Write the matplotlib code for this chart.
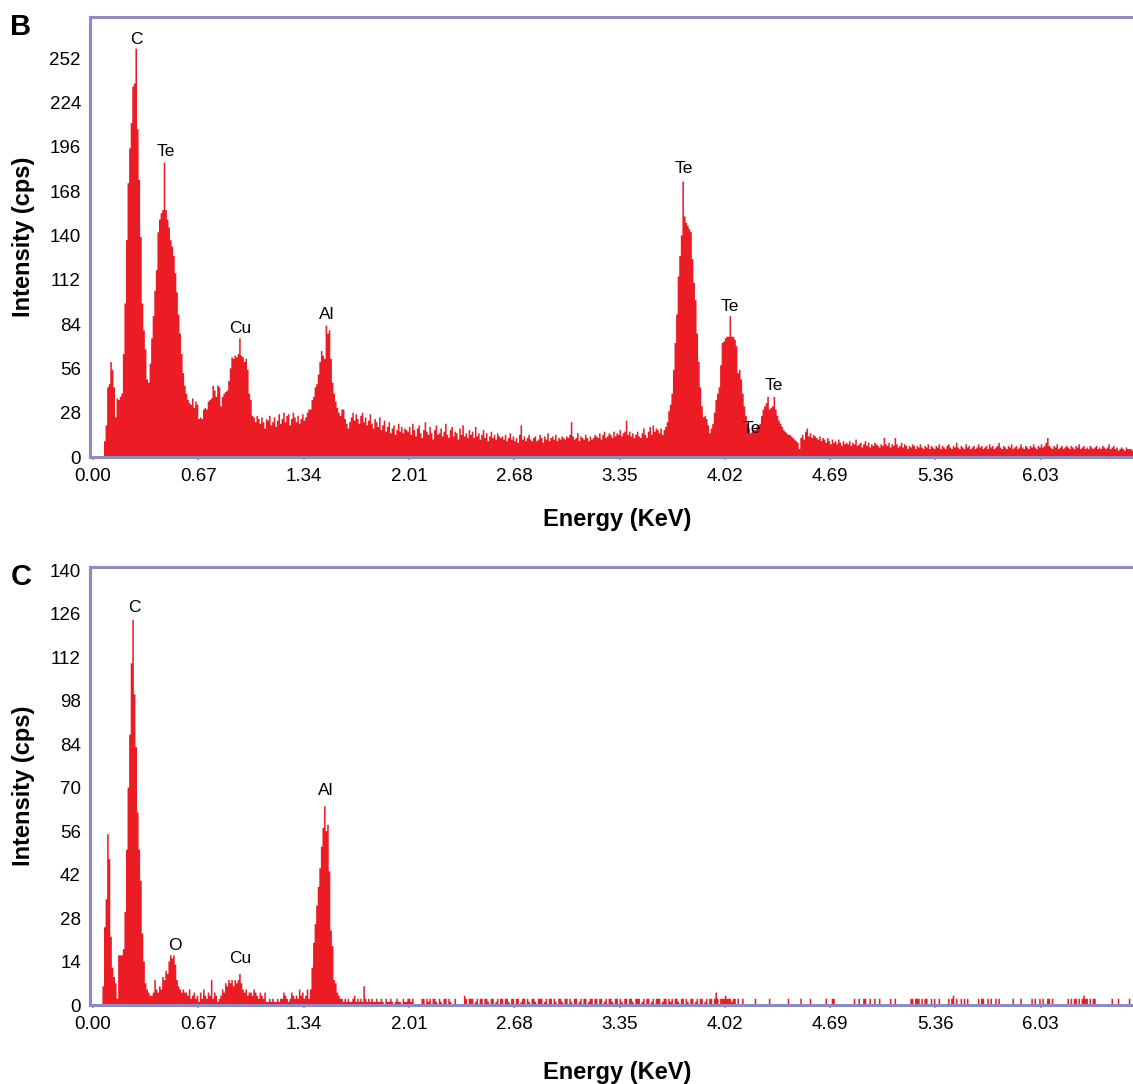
import numpy as np
import matplotlib
matplotlib.use("Agg")
import matplotlib.pyplot as plt

plt.rcParams['font.family'] = ['Liberation Sans', 'DejaVu Sans']

# EDS spectra, one value per 10 eV channel starting at 0.00 keV
channel_kev = 0.01

counts_b = [
    0, 0, 0, 0, 0, 0, 0, 10, 20, 44, 46, 60, 55, 44, 25, 37, 36, 38, 40, 65,
    97, 137, 173, 195, 211, 234, 236, 258, 207, 175, 139, 97, 80, 68, 49, 47, 59, 75, 89, 105,
    118, 142, 150, 154, 156, 186, 156, 150, 145, 137, 133, 127, 116, 104, 90, 78, 65, 53, 45, 40,
    36, 34, 33, 37, 31, 35, 33, 24, 25, 24, 30, 31, 30, 35, 36, 37, 45, 42, 38, 45,
    44, 32, 38, 40, 41, 42, 48, 56, 63, 62, 64, 63, 65, 75, 64, 63, 60, 62, 55, 40,
    36, 26, 25, 22, 26, 24, 21, 25, 22, 18, 24, 23, 26, 20, 22, 25, 19, 23, 27, 21,
    24, 28, 22, 26, 27, 20, 24, 28, 25, 22, 26, 21, 24, 27, 23, 25, 28, 30, 30, 36,
    38, 44, 46, 52, 60, 67, 64, 62, 83, 78, 80, 62, 47, 40, 35, 31, 28, 26, 30, 30,
    24, 21, 18, 22, 25, 28, 23, 27, 24, 21, 26, 28, 22, 25, 20, 23, 27, 21, 18, 24,
    22, 19, 25, 17, 20, 23, 16, 19, 22, 15, 18, 20, 14, 17, 21, 16, 19, 15, 18, 17,
    16, 19, 14, 21, 17, 13, 18, 20, 15, 12, 17, 22, 16, 14, 19, 15, 11, 17, 20, 14,
    15, 18, 13, 16, 21, 14, 12, 17, 19, 13, 16, 15, 11, 18, 14, 20, 13, 15, 12, 17,
    14, 16, 12, 19, 13, 15, 11, 14, 17, 12, 15, 10, 13, 16, 12, 14, 11, 15, 13, 12,
    13, 11, 14, 10, 12, 15, 11, 13, 10, 12, 9, 14, 20, 11, 13, 10, 12, 14, 11, 10,
    12, 13, 10, 11, 14, 12, 9, 13, 11, 15, 10, 12, 13, 11, 14, 10, 12, 11, 13, 12,
    11, 13, 12, 14, 22, 13, 11, 12, 15, 10, 13, 12, 11, 14, 12, 10, 13, 11, 12, 14,
    13, 12, 15, 11, 14, 16, 12, 13, 15, 14, 12, 16, 13, 15, 14, 17, 13, 15, 16, 23,
    14, 16, 13, 15, 12, 14, 16, 13, 12, 15, 18, 14, 12, 16, 19, 14, 20, 16, 18, 17,
    15, 18, 14, 17, 19, 22, 29, 33, 40, 55, 72, 90, 114, 127, 140, 174, 152, 148, 146, 144,
    142, 125, 110, 99, 78, 60, 44, 32, 25, 26, 24, 20, 15, 18, 21, 28, 36, 40, 44, 58,
    72, 73, 75, 76, 76, 89, 76, 76, 74, 70, 53, 55, 49, 40, 32, 26, 21, 18, 15, 16,
    17, 17, 19, 20, 21, 26, 30, 32, 34, 38, 30, 31, 32, 38, 30, 26, 23, 21, 19, 17,
    16, 15, 14, 14, 13, 12, 11, 10, 9, 5, 12, 14, 11, 16, 18, 13, 15, 12, 14, 13,
    12, 11, 13, 10, 12, 11, 9, 12, 10, 8, 11, 9, 10, 8, 11, 9, 7, 10, 8, 9,
    8, 10, 7, 9, 8, 11, 7, 8, 9, 6, 8, 10, 7, 9, 6, 8, 7, 9, 8, 7,
    6, 8, 7, 12, 8, 7, 9, 6, 8, 7, 12, 8, 6, 7, 9, 6, 8, 7, 5, 7,
    6, 8, 7, 5, 7, 6, 8, 6, 5, 7, 6, 8, 5, 7, 6, 5, 7, 6, 8, 5,
    7, 6, 5, 7, 8, 6, 5, 7, 6, 9, 6, 5, 7, 6, 5, 8, 6, 7, 5, 6,
    7, 5, 6, 8, 6, 7, 5, 6, 7, 5, 8, 6, 7, 5, 6, 7, 9, 6, 5, 7,
    6, 5, 7, 6, 8, 5, 6, 7, 5, 6, 8, 6, 5, 7, 6, 5, 7, 6, 8, 6,
    5, 7, 6, 8, 6, 7, 9, 12, 7, 6, 5, 7, 6, 8, 5, 6, 7, 5, 6, 7,
    6, 5, 7, 6, 5, 7, 6, 8, 5, 6, 7, 5, 6, 5, 7, 6, 5, 6, 7, 5,
    6, 5, 7, 6, 5, 6, 8, 5, 6, 7, 5, 6, 4, 5, 6, 5, 4, 6, 5, 5,
    5, 4,
]

counts_c = [
    0, 0, 0, 0, 0, 0, 6, 25, 34, 55, 47, 22, 12, 9, 7, 2, 16, 16, 16, 18,
    30, 50, 70, 87, 110, 124, 100, 83, 62, 50, 40, 23, 14, 7, 5, 4, 3, 3, 4, 8,
    5, 4, 6, 5, 9, 8, 11, 10, 14, 16, 15, 16, 13, 8, 6, 5, 4, 5, 4, 4,
    3, 5, 2, 3, 4, 2, 3, 1, 4, 2, 5, 3, 2, 4, 3, 8, 2, 4, 3, 1,
    2, 3, 5, 4, 7, 6, 8, 7, 8, 6, 8, 7, 8, 10, 7, 5, 4, 5, 3, 4,
    4, 3, 5, 4, 3, 2, 4, 3, 2, 4, 1, 1, 2, 1, 2, 1, 1, 2, 1, 2,
    2, 4, 3, 2, 1, 2, 4, 3, 2, 3, 2, 5, 3, 4, 2, 3, 5, 2, 5, 12,
    20, 26, 32, 38, 44, 51, 57, 64, 56, 58, 43, 24, 19, 8, 7, 4, 3, 2, 2, 1,
    2, 1, 2, 1, 1, 2, 3, 1, 2, 1, 2, 1, 6, 2, 1, 2, 1, 2, 1, 1,
    2, 1, 1, 2, 1, 0, 2, 1, 1, 2, 1, 0, 1, 2, 1, 1, 0, 2, 1, 1,
    2, 2, 1, 2, 0, 0, 0, 0, 0, 2, 2, 0, 2, 1, 2, 0, 2, 2, 1, 0,
    2, 1, 0, 2, 2, 0, 2, 1, 0, 0, 2, 0, 0, 0, 0, 0, 3, 2, 0, 2,
    2, 2, 0, 1, 2, 0, 2, 2, 0, 2, 2, 1, 0, 2, 2, 0, 1, 2, 0, 2,
    2, 0, 2, 2, 1, 0, 2, 2, 0, 2, 2, 0, 1, 2, 2, 0, 2, 1, 0, 2,
    2, 1, 0, 2, 2, 2, 0, 1, 2, 0, 2, 2, 0, 2, 1, 0, 2, 2, 1, 0,
    2, 2, 0, 2, 1, 0, 2, 2, 0, 1, 2, 0, 2, 2, 0, 1, 2, 2, 0, 2,
    2, 0, 2, 2, 0, 1, 2, 0, 2, 2, 1, 0, 2, 2, 0, 2, 1, 0, 2, 2,
    0, 2, 2, 1, 0, 2, 2, 2, 0, 1, 2, 0, 2, 2, 0, 1, 2, 0, 2, 2,
    2, 0, 1, 2, 2, 0, 2, 1, 2, 0, 2, 2, 1, 0, 2, 2, 0, 2, 1, 0,
    2, 2, 0, 1, 2, 0, 2, 2, 0, 1, 2, 0, 2, 2, 0, 2, 4, 2, 0, 2,
    2, 2, 3, 2, 2, 2, 1, 2, 2, 0, 2, 0, 0, 2, 0, 0, 0, 0, 0, 0,
    0, 2, 0, 0, 0, 0, 0, 0, 0, 0, 2, 0, 0, 0, 0, 0, 0, 0, 0, 0,
    0, 0, 2, 0, 0, 0, 0, 0, 0, 0, 2, 0, 0, 0, 0, 0, 2, 0, 0, 0,
    0, 0, 0, 0, 0, 0, 2, 0, 0, 0, 2, 2, 0, 0, 0, 0, 0, 0, 0, 0,
    0, 0, 0, 0, 2, 0, 0, 2, 0, 0, 2, 2, 0, 0, 2, 0, 0, 2, 0, 0,
    2, 0, 0, 0, 0, 0, 0, 2, 0, 0, 2, 0, 0, 0, 0, 0, 0, 0, 0, 0,
    2, 2, 0, 2, 2, 2, 0, 2, 0, 2, 2, 0, 0, 2, 0, 2, 0, 0, 2, 0,
    0, 0, 0, 0, 2, 0, 2, 3, 0, 2, 0, 0, 2, 0, 2, 0, 2, 0, 0, 0,
    0, 0, 0, 2, 0, 2, 2, 0, 0, 2, 0, 2, 0, 0, 2, 0, 2, 0, 0, 0,
    0, 0, 0, 0, 0, 2, 0, 0, 0, 0, 2, 0, 0, 0, 0, 0, 0, 2, 0, 2,
    0, 0, 2, 0, 2, 0, 0, 2, 2, 0, 2, 0, 0, 0, 0, 0, 0, 0, 0, 0,
    2, 0, 2, 0, 2, 2, 0, 2, 0, 2, 3, 2, 2, 0, 2, 0, 2, 2, 0, 0,
    0, 0, 0, 0, 0, 0, 0, 0, 2, 0, 0, 0, 2, 0, 0, 0, 0, 0, 0, 2,
    0, 0,
]

energy_ticks = [0.00, 0.67, 1.34, 2.01, 2.68, 3.35, 4.02, 4.69, 5.36, 6.03]
b_ticks = [0, 28, 56, 84, 112, 140, 168, 196, 224, 252]
c_ticks = [0, 14, 28, 42, 56, 70, 84, 98, 112, 126, 140]

# element labels: (text, energy, intensity)
peaks_b = [("C", 0.274, 264), ("Te", 0.464, 193), ("Cu", 0.936, 81),
           ("Al", 1.489, 90), ("Te", 3.76, 182), ("Te", 4.053, 95),
           ("Te", 4.333, 45), ("Te", 4.193, 18)]
peaks_c = [("C", 0.261, 128), ("O", 0.522, 19), ("Cu", 0.936, 15),
           ("Al", 1.483, 69)]

red = '#EC1C24'
frame = '#8B8BC6'
W, H = 1133, 1084

fig = plt.figure(figsize=(W / 100, H / 100), dpi=100)


def panel(top_px, bottom_px, counts, yticks, ymax, peaks, letter, xlabel_y):
    ax = fig.add_axes([90 / W, 1 - bottom_px / H, (W - 90) / W, (bottom_px - top_px) / H])
    edges = np.arange(len(counts) + 1) * channel_kev
    ax.stairs(counts, edges, fill=True, color=red, linewidth=0)
    ax.set_xlim(-0.019, 6.617)
    ax.set_ylim(0, ymax)
    ax.set_xticks(energy_ticks)
    ax.set_xticklabels(['%.2f' % t for t in energy_ticks])
    ax.set_yticks(yticks)
    ax.tick_params(axis='x', length=2, width=1.2, color=frame, pad=6, labelsize=13.5)
    ax.tick_params(axis='y', length=0, pad=6.5, labelsize=13.5)
    ax.spines['right'].set_visible(False)
    for s in ['left', 'top', 'bottom']:
        ax.spines[s].set_color(frame)
        ax.spines[s].set_linewidth(2.2)
    for name, e, v in peaks:
        ax.text(e, v, name, ha='center', va='center', fontsize=12.5)
    ax.set_ylabel('Intensity (cps)', fontsize=17, fontweight='bold')
    ax.yaxis.label.set_va('center')
    ax.yaxis.set_label_coords(-0.064, 0.5)
    ax.set_xlabel('Energy (KeV)', fontsize=17, fontweight='bold')
    ax.xaxis.label.set_va('center')
    ax.xaxis.set_label_coords(0.505, xlabel_y)
    fig.text(21 / W, 1 - (top_px + 10) / H, letter, ha='center', va='center',
             fontsize=21, fontweight='bold')
    return ax


panel(17, 457, counts_b, b_ticks, 278, peaks_b, 'B', -0.141)
panel(567, 1005, counts_c, c_ticks, 141, peaks_c, 'C', -0.153)

fig.savefig('out.png', dpi=100)
